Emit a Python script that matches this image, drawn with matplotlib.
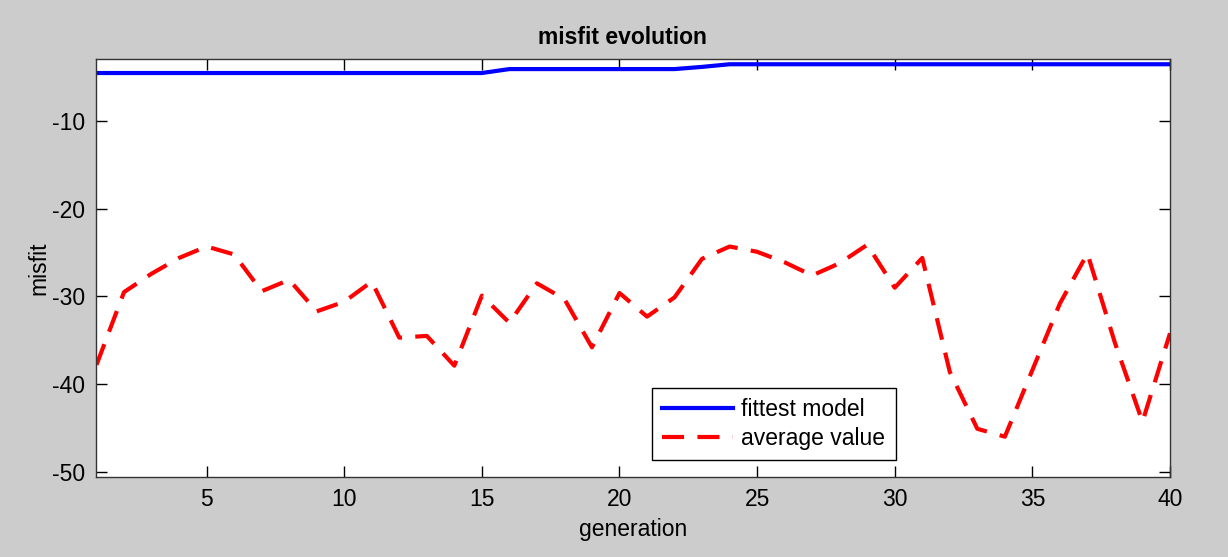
import matplotlib
matplotlib.use("Agg")
import matplotlib.pyplot as plt

generation = list(range(1, 41))
fittest = [-4.5] * 15 + [-4.05] * 7 + [-3.8] + [-3.5] * 17
average = [-37.8, -29.5, -27.4, -25.6, -24.3, -25.2, -29.4, -28.1, -31.7, -30.6,
           -28.3, -34.7, -34.5, -37.9, -29.9, -33.0, -28.5, -30.3, -35.8, -29.6,
           -32.3, -30.1, -25.7, -24.3, -24.9, -26.1, -27.6, -26.2, -24.1, -29.0,
           -25.6, -38.6, -45.1, -46.0, -38.4, -30.8, -25.1, -35.3, -44.3, -34.2]
xticks = [5, 10, 15, 20, 25, 30, 35, 40]
yticks = [-10, -20, -30, -40, -50]

plt.rcParams['font.family'] = ['Liberation Sans', 'DejaVu Sans']
plt.rcParams['axes.unicode_minus'] = False

FS = 16.5

fig = plt.figure(figsize=(12.28, 5.57), dpi=100, facecolor='#cccccc')
ax = fig.add_axes([96.5 / 1228, 1 - 477 / 557, (1170 - 96.5) / 1228, (477 - 59) / 557])
ax.set_facecolor('white')

ax.plot(generation, fittest, color='#0000ff', lw=3.0, label='fittest model')
ax.plot(generation, average, color='#ff0000', lw=3.0, dashes=(5.3, 3.2), label='average value')

ax.set_xlim(1, 40)
ax.set_ylim(-50.6, -2.9)
ax.set_xticks(xticks)
ax.set_yticks(yticks)
ax.tick_params(direction='in', length=8, width=1, top=True, right=True,
               labelsize=FS, colors='black', pad=8)
for s in ax.spines.values():
    s.set_color('#333333')
    s.set_linewidth(1.0)

ax.set_title('misfit evolution', fontsize=FS, fontweight='bold', pad=11, x=0.49)
ax.set_xlabel('generation', fontsize=FS, labelpad=5)
ax.set_ylabel('misfit', fontsize=FS, labelpad=1)

leg = ax.legend(loc='lower left', bbox_to_anchor=(0.5175, 0.0407, 0.2273, 0.1),
                mode='expand', fontsize=FS,
                frameon=True, fancybox=False, framealpha=1, edgecolor='black',
                handlelength=3.1, borderpad=0.45, labelspacing=0.25, handletextpad=0.35,
                borderaxespad=0)
leg.get_frame().set_linewidth(1.0)
leg._legend_box.align = "left"
for h in leg.legend_handles:
    pass

fig.savefig('out.png', dpi=100, facecolor=fig.get_facecolor())
